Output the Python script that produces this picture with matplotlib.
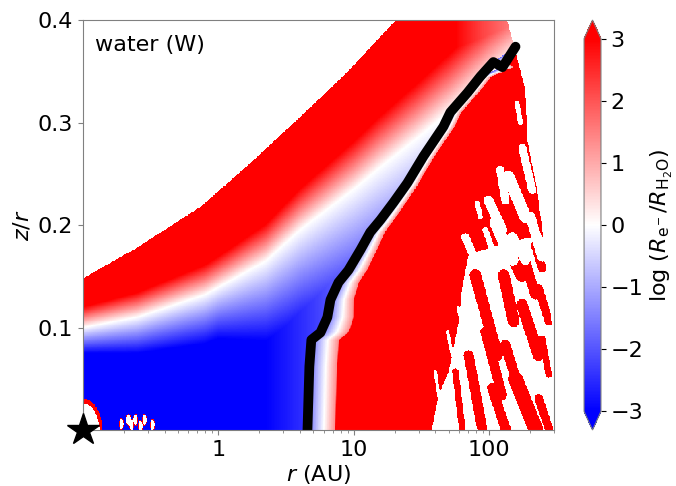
import numpy as np
import matplotlib
matplotlib.use("Agg")
import matplotlib.pyplot as plt

# black contour (snow line)
line_r = [4.54, 4.69, 4.85, 5.66, 6.37, 6.71, 7.69, 9.11, 11.2, 13.2, 15.7,
          19.6, 24.8, 32.6, 45.8, 51.5, 68.8, 85.9, 107, 125, 156]
line_z = [0.0, 0.062, 0.088, 0.095, 0.110, 0.127, 0.144, 0.156, 0.176, 0.193,
          0.205, 0.222, 0.241, 0.267, 0.296, 0.310, 0.329, 0.345, 0.359, 0.354, 0.374]

# upper surface of the model (white above), log10 r vs z/r
top_logr = [-1.0, -0.6, -0.13, 0.24, 0.6, 0.95, 1.31, 2.5]
top_z = [0.148, 0.178, 0.218, 0.261, 0.305, 0.349, 0.40, 0.55]

# outer edge of the model, z/r vs log10 r
out_z = [0.0, 0.166, 0.185, 0.234, 0.283, 0.332, 0.40]
out_logr = [2.47, 2.45, 2.40, 2.354, 2.28, 2.266, 2.13]

# zero level (white band) of the upper layer
band_logr = [-1.0, -0.6, -0.1, 0.35, 0.6, 1.0, 1.2, 1.45, 1.7, 2.0, 2.5]
band_z = [0.100, 0.110, 0.132, 0.165, 0.195, 0.235, 0.257, 0.283, 0.310, 0.345, 0.40]

# how fast the colour saturates above / below the band
wup_logr = [-1.0, 0.0, 0.6, 1.2, 2.0]
wup_w = [0.02, 0.03, 0.04, 0.05, 0.06]
vmax_logr = [1.3, 1.75, 1.95, 2.15, 2.5]
vmax_v = [3.5, 3.0, 2.2, 1.6, 1.4]
wlo_logr = [-1.0, 0.0, 0.5, 1.0, 1.5, 2.0]
wlo_w = [0.025, 0.05, 0.09, 0.12, 0.15, 0.18]
base_logr = [-1.0, 0.2, 0.5, 0.7, 1.0, 1.5, 2.0]
base_v = [3.3, 3.3, 2.7, 2.3, 1.6, 1.0, 0.6]

# profile across the snow line (outside of it)
prof_d = [0.0, 0.04, 0.12, 0.20, 0.21]
prof_v = [-1.8, -1.2, 0.0, 1.3, 3.5]
scale_z = [0.0, 0.10, 0.15, 0.20, 0.25]
scale_s = [1.0, 1.0, 0.7, 0.5, 0.4]

# outer midplane: mostly empty cells right of this edge
wz_z = [0.0, 0.002, 0.034, 0.057, 0.105, 0.139, 0.171, 0.180, 0.188, 0.189, 0.40]
wz_logr = [1.577, 1.577, 1.626, 1.700, 1.773, 1.799, 1.847, 2.05, 2.30, 3.0, 3.0]

# filled streaks in the empty zone: logr_top, z_top, logr_bot, z_bot, half width
red_streaks = [
    (1.897, 0.151, 2.057, 0.073, 0.043), (2.106, 0.151, 2.179, 0.106, 0.043),
    (2.142, 0.178, 2.241, 0.151, 0.049), (2.266, 0.164, 2.339, 0.132, 0.037),
    (2.241, 0.122, 2.364, 0.073, 0.043), (2.364, 0.138, 2.438, 0.106, 0.031),
    (2.339, 0.180, 2.389, 0.158, 0.031), (1.970, 0.096, 2.094, 0.034, 0.037),
    (2.118, 0.083, 2.216, 0.041, 0.037), (2.192, 0.050, 2.339, 0.002, 0.055),
    (2.020, 0.041, 2.118, 0.002, 0.037), (1.847, 0.073, 1.946, 0.002, 0.037),
    (2.389, 0.089, 2.438, 0.054, 0.024), (2.364, 0.031, 2.438, 0.002, 0.031),
    (1.749, 0.057, 1.799, 0.002, 0.024),
]
# empty streaks inside the filled region
white_streaks = [
    (2.204, 0.319, 2.229, 0.300, 0.018), (2.244, 0.275, 2.317, 0.234, 0.030),
    (2.081, 0.254, 2.118, 0.224, 0.030), (2.140, 0.247, 2.266, 0.208, 0.044),
    (1.911, 0.221, 1.934, 0.208, 0.018), (1.993, 0.224, 2.096, 0.195, 0.037),
    (2.044, 0.202, 2.170, 0.166, 0.044), (1.823, 0.188, 1.897, 0.166, 0.030),
    (1.970, 0.195, 2.022, 0.176, 0.022), (2.170, 0.188, 2.266, 0.166, 0.037),
    (2.303, 0.208, 2.391, 0.169, 0.037),
    (1.690, 0.096, 1.727, 0.073, 0.012), (1.601, 0.057, 1.638, 0.024, 0.012),
    (1.771, 0.119, 1.801, 0.100, 0.012),
]
# empty spots near the star: logr, z, radius in logr, radius in z
spots = [(-1.0, 0.0, 0.12, 0.026),
         (-0.716, 0.006, 0.015, 0.005), (-0.664, 0.010, 0.015, 0.005),
         (-0.642, 0.005, 0.015, 0.005), (-0.613, 0.010, 0.015, 0.005),
         (-0.576, 0.004, 0.015, 0.005), (-0.546, 0.010, 0.015, 0.005),
         (-0.487, 0.005, 0.015, 0.005)]

ZS = 1025 / 135.5  # z units -> log r units (same pixel size)


def seg_dist(LR, Z, s):
    x0, y0, x1, y1 = s[0], s[1] * ZS, s[2], s[3] * ZS
    px, py = LR - x0, Z * ZS - y0
    dx, dy = x1 - x0, y1 - y0
    t = np.clip((px * dx + py * dy) / (dx * dx + dy * dy), 0, 1)
    return np.hypot(px - t * dx, py - t * dy)


lr = np.linspace(-1, np.log10(300), 700)
zz = np.linspace(0, 0.4, 520)
LR, Z = np.meshgrid(lr, zz)

zb = np.interp(LR, band_logr, band_z)
v_up = np.minimum(np.interp(LR, vmax_logr, vmax_v),
                  3 * (Z - zb) / np.interp(LR, wup_logr, wup_w))
v_lo = -np.minimum(np.interp(LR, base_logr, base_v),
                   3 * (zb - Z) / np.interp(LR, wlo_logr, wlo_w))
v_left = np.where(Z >= zb, v_up, v_lo)

order = np.argsort(line_z)
lline = np.interp(Z, np.array(line_z)[order], np.log10(line_r)[order])
d = (LR - lline) / np.interp(Z, scale_z, scale_s)
v_right = np.interp(d, prof_d, prof_v)
field = np.where(LR > lline, v_right, v_left)

empty = (Z > np.interp(LR, top_logr, top_z)) | (LR > np.interp(Z, out_z, out_logr))
zone = LR > np.interp(Z, wz_z, wz_logr)
for s in red_streaks:
    zone &= seg_dist(LR, Z, s) > s[4]
for s in white_streaks:
    zone |= seg_dist(LR, Z, s) < s[4]
for cx, cz, rx, rz in spots:
    q = ((LR - cx) / rx) ** 2 + ((Z - cz) / rz) ** 2
    field[q < 1.4] = 3.5
    zone |= q < 1
field[empty | zone] = np.nan

fig = plt.figure(figsize=(6.76, 4.86), dpi=100)
ax = fig.add_axes([0.1228, 0.1152, 0.6967, 0.8436])
cax = fig.add_axes([0.864, 0.1152, 0.025, 0.8436])

cmap = plt.get_cmap("bwr").copy()
cmap.set_bad("white")
mesh = ax.pcolormesh(10 ** lr, zz, np.ma.masked_invalid(field), cmap=cmap,
                     vmin=-3, vmax=3, shading="nearest", rasterized=True)
ax.plot(line_r, line_z, color="k", lw=7, solid_capstyle="round",
        solid_joinstyle="round")
ax.plot([0.1], [0.0], marker="*", ms=24, color="k", clip_on=False, zorder=6)

ax.set_xscale("log")
ax.set_xlim(0.1, 300)
ax.set_ylim(0, 0.4)
ax.set_xticks([1, 10, 100])
ax.set_xticklabels(["1", "10", "100"])
ax.set_yticks([0.1, 0.2, 0.3, 0.4])
ax.tick_params(labelsize=16, color="grey")
ax.tick_params(which="minor", color="grey")
for sp in ax.spines.values():
    sp.set_color("grey")
ax.set_xlabel(r"$r$ (AU)", fontsize=16, labelpad=2)
ax.set_ylabel(r"$z/r$", fontsize=16)
ax.text(0.025, 0.94, "water (W)", transform=ax.transAxes, fontsize=16, va="center")

cb = fig.colorbar(mesh, cax=cax, extend="both", ticks=range(-3, 4))
cb.ax.tick_params(labelsize=16)
cb.outline.set_edgecolor("grey")
cb.set_label(r"log ($R_{\mathrm{e}^-}/R_{\mathrm{H_2O}}$)", fontsize=16)

fig.savefig("out.png", dpi=100)
